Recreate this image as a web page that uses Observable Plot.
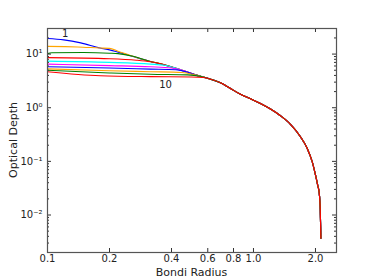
<!DOCTYPE html>
<html><head><meta charset="utf-8">
<script src="https://cdn.jsdelivr.net/npm/d3@7"></script>
<script src="https://cdn.jsdelivr.net/npm/@observablehq/plot@0.6"></script>
<style>body{margin:0;background:#fff}svg{font-family:"DejaVu Sans",sans-serif}</style>
</head><body><div id="chart"></div>
<script>
const xTicks = [0.1, 0.2, 0.4, 0.6, 0.8, 1.0, 2.0];
const xTickLabels = ["0.1", "0.2", "0.4", "0.6", "0.8", "1.0", "2.0"];
const yTicks = [0.01, 0.1, 1, 10];
const yTickLabels = ["10\u207B\u00B2", "10\u207B\u00B9", "10\u2070", "10\u00B9"];
const seriesNames = ["1","2","3","4","5","6","7","8","9","10"];
const seriesColors = ["#0000ff","#ffa500","#008000","#ff0000","#00ffff","#ff00ff","#0000ff","#ffa500","#008000","#ff0000"];
// individual starting parts of each curve [radius, depth]
const head1 = [[0.1,19.5],[0.12,18.4],[0.145,16.2],[0.18,13.0],[0.2,12.0],[0.26,9.0],[0.316,7.3],[0.35,6.6],[0.45,4.9],[0.523,4.1]];
const head2 = [[0.1,13.9],[0.14,13.6],[0.18,13.0],[0.2,12.8],[0.22,11.3],[0.26,9.1],[0.316,7.3],[0.35,6.7],[0.45,4.95],[0.523,4.1]];
const head3 = [[0.1,10.2],[0.105,10.6],[0.15,10.7],[0.2,10.4],[0.22,10.2],[0.26,9.1],[0.316,7.3],[0.35,6.7],[0.45,5.0],[0.523,4.1]];
const head4 = [[0.1,8.6],[0.2,8.2],[0.27,7.7],[0.316,7.2],[0.35,6.7],[0.45,5.0],[0.523,4.1]];
const head5 = [[0.1,7.4],[0.2,7.0],[0.316,6.5],[0.37,6.2],[0.45,5.0],[0.523,4.05]];
const head6 = [[0.1,6.5],[0.2,6.1],[0.316,5.8],[0.4,5.5],[0.46,4.9],[0.523,4.05]];
const head7 = [[0.1,5.8],[0.2,5.5],[0.316,5.25],[0.42,5.1],[0.48,4.6],[0.53,4.0]];
const head8 = [[0.1,5.3],[0.2,4.9],[0.316,4.7],[0.45,4.55],[0.53,4.0]];
const head9 = [[0.1,5.0],[0.2,4.45],[0.316,4.2],[0.48,4.1],[0.55,3.85]];
const head10 = [[0.1,4.7],[0.18,3.95],[0.316,3.8],[0.5,3.75],[0.57,3.65]];
// shared outer part of all curves
const tail = [[0.62,3.4],[0.7,2.85],[0.77,2.3],[0.865,1.78],[0.967,1.47],[1.081,1.2],[1.21,0.946],[1.352,0.71],[1.513,0.491],[1.691,0.288],[1.823,0.175],[1.928,0.0987],[2.0,0.0558],[2.05,0.036],[2.085,0.026],[2.11,0.0125],[2.125,0.0037]];
const heads = [head1,head2,head3,head4,head5,head6,head7,head8,head9,head10];
const labelPoints = [{x:0.122, y:23.6, text:"1"}, {x:0.374, y:2.65, text:"10"}];

const rows = [];
heads.forEach((h, i) => {
  [...h, ...tail].forEach(([x, y]) => rows.push({series: seriesNames[i], color: seriesColors[i], x, y}));
});

const W = 374, H = 280, mt = 28, mb = 28, ml = 47, mr = 38;
const innerH = H - mt - mb, innerW = W - ml - mr;
const yMinor = [];
for (const d of [0.001, 0.01, 0.1, 1, 10]) for (let k = 2; k <= 9; k++) { const v = d * k; if (v >= 0.002 && v <= 30) yMinor.push(v); }
const tickColor = "#333";

const chart = Plot.plot({
  width: W, height: H,
  marginTop: mt, marginBottom: mb, marginLeft: ml, marginRight: mr,
  x: {type: "log", domain: [0.1, 2.53]},
  y: {type: "log", domain: [0.002, 30]},
  style: {fontFamily: "DejaVu Sans, sans-serif", fontSize: "10px", color: "#222"},
  marks: [
    ...seriesNames.map(s => Plot.line(rows.filter(r => r.series === s), {x: "x", y: "y", stroke: "color", strokeWidth: 1.1, curve: "monotone-x"})),
    Plot.text(labelPoints, {x: "x", y: "y", text: "text", fontSize: 10, fill: "#222"}),
    Plot.ruleX(xTicks, {x: d => d, insetTop: innerH - 4, stroke: tickColor}),
    Plot.ruleX(xTicks, {x: d => d, insetBottom: innerH - 4, stroke: tickColor}),
    Plot.ruleY(yTicks, {y: d => d, insetRight: innerW - 4, stroke: tickColor}),
    Plot.ruleY(yTicks, {y: d => d, insetLeft: innerW - 4, stroke: tickColor}),
    Plot.ruleY(yMinor, {y: d => d, insetRight: innerW - 2, stroke: tickColor}),
    Plot.ruleY(yMinor, {y: d => d, insetLeft: innerW - 2, stroke: tickColor}),
    Plot.axisX({ticks: xTicks, tickSize: 0, tickPadding: 2, tickFormat: d => xTickLabels[xTicks.indexOf(d)], fontSize: 10, label: null}),
    Plot.axisY({ticks: yTicks, tickSize: 0, tickPadding: 5, tickFormat: d => yTickLabels[yTicks.indexOf(d)], fontSize: 10, label: null}),
    Plot.frame({stroke: "#555", strokeWidth: 1.2})
  ]
});

const svg = d3.select(chart);
svg.append("text").attr("x", ml + innerW / 2).attr("y", 276).attr("text-anchor", "middle")
  .attr("font-size", 11).attr("fill", "#222").text("Bondi Radius");
svg.append("text").attr("transform", `translate(17,${mt + innerH / 2}) rotate(-90)`).attr("text-anchor", "middle")
  .attr("font-size", 11).attr("fill", "#222").text("Optical Depth");
document.getElementById("chart").appendChild(chart);
</script></body></html>
